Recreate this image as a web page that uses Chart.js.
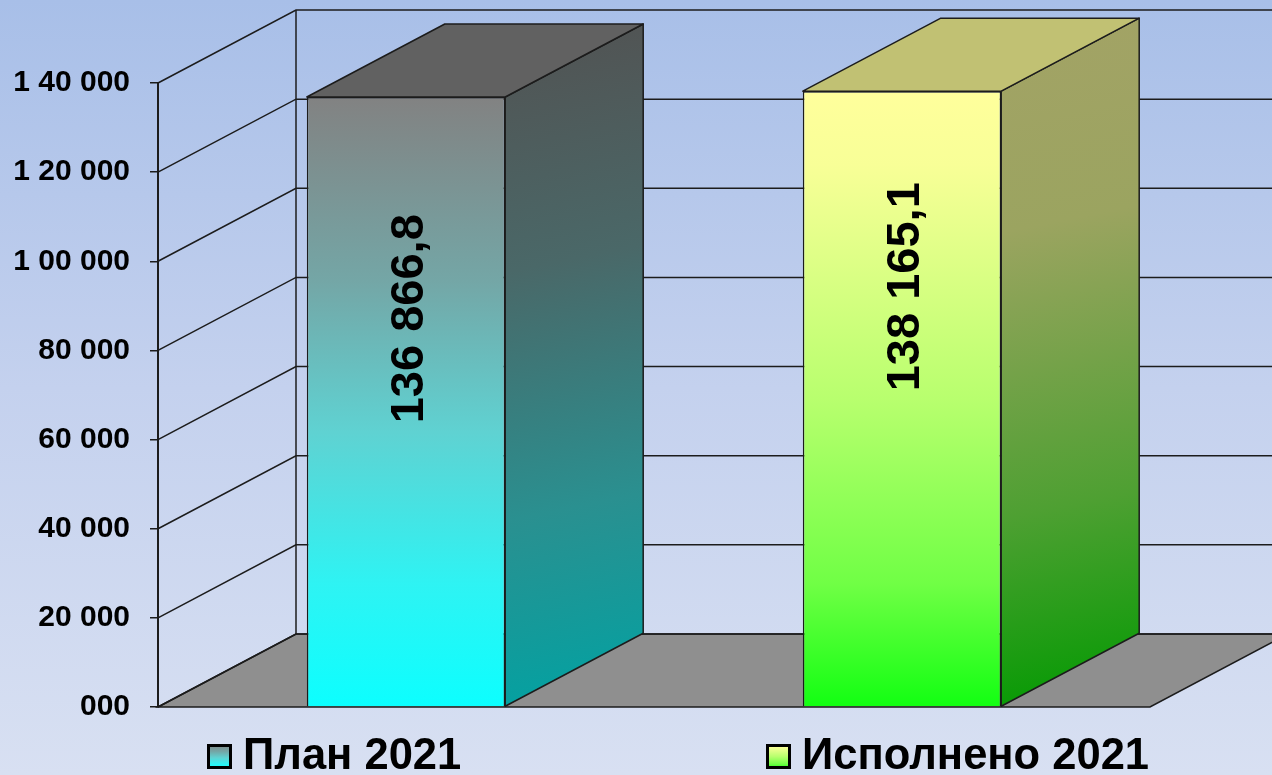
<!DOCTYPE html>
<html>
<head>
<meta charset="utf-8">
<script src="https://cdn.jsdelivr.net/npm/chart.js@4.4.1/dist/chart.umd.min.js"></script>
<style>
  html, body { margin: 0; padding: 0; }
  body { width: 1272px; height: 775px; overflow: hidden;
         background: linear-gradient(to bottom, #A8BFE8 0%, #C4D1EE 50%, #D8E0F2 100%); }
  canvas { display: block; }
</style>
</head>
<body>
<canvas id="chart" width="1272" height="775"></canvas>
<script>
// ---- data ----
const categories = ['План 2021', 'Исполнено 2021'];
const values = [136866.8, 138165.1];
const valueLabels = ['136 866,8', '138 165,1'];
const tickValues = [0, 20000, 40000, 60000, 80000, 100000, 120000, 140000];
const tickLabels = ['000', '20 000', '40 000', '60 000', '80 000', '1 00 000', '1 20 000', '1 40 000'];

// ---- styles ----
const FONT = '"Liberation Sans", Arial, sans-serif';
const frontStops = [
  [[0, '#828282'], [0.3, '#74A6A6'], [0.55, '#5FD2D2'], [0.8, '#2EF3F3'], [1, '#0CFFFF']],
  [[0, '#FFFF9C'], [0.12, '#F8FF97'], [0.5, '#B8FF6E'], [0.8, '#70FF45'], [1, '#12FF12']]
];
const sideStops = [
  [[0, '#525252'], [0.35, '#4A6868'], [0.7, '#2A9090'], [1, '#00A3A3']],
  [[0, '#A3A366'], [0.3, '#9BA460'], [0.7, '#4EA032'], [1, '#009A00']]
];
const topColors = ['#616161', '#C1C173'];
const LINE = '#1c1c1c';

function applyStops(g, stops) { stops.forEach(s => g.addColorStop(s[0], s[1])); return g; }

function frontGradient(ctx) {
  const chart = ctx.chart;
  if (!chart.chartArea) return '#888';
  const ys = chart.scales.y;
  const top = ys.getPixelForValue(values[ctx.dataIndex]);
  const bot = ys.getPixelForValue(0);
  return applyStops(chart.ctx.createLinearGradient(0, top, 0, bot), frontStops[ctx.dataIndex]);
}

const threeD = {
  id: 'threeD',
  beforeDatasetsDraw(chart, args, opts) {
    const ctx = chart.ctx;
    const ys = chart.scales.y;
    const { left, right } = chart.chartArea;
    const dx = opts.dx, dy = opts.dy;
    const bottom = ys.getPixelForValue(0);
    const top = ys.getPixelForValue(tickValues[tickValues.length - 1]);
    ctx.save();
    // floor
    ctx.beginPath();
    ctx.moveTo(left, bottom);
    ctx.lineTo(right, bottom);
    ctx.lineTo(right + dx, bottom - dy);
    ctx.lineTo(left + dx, bottom - dy);
    ctx.closePath();
    ctx.fillStyle = '#8F8F8F';
    ctx.fill();
    ctx.lineWidth = 1.6;
    ctx.strokeStyle = LINE;
    ctx.stroke();
    // grid lines: left wall slants + back wall horizontals
    ctx.lineWidth = 1.5;
    tickValues.forEach(v => {
      const y = ys.getPixelForValue(v);
      ctx.beginPath();
      ctx.moveTo(left, y);
      ctx.lineTo(left + dx, y - dy);
      ctx.lineTo(chart.width + 5, y - dy);
      ctx.stroke();
    });
    // back wall vertical edge
    ctx.beginPath();
    ctx.moveTo(left + dx, top - dy);
    ctx.lineTo(left + dx, bottom - dy);
    ctx.stroke();
    ctx.restore();
  },
  afterDatasetsDraw(chart, args, opts) {
    const ctx = chart.ctx;
    const dx = opts.dx, dy = opts.dy;
    const meta = chart.getDatasetMeta(0);
    ctx.save();
    ctx.lineWidth = 1.5;
    ctx.strokeStyle = LINE;
    ctx.lineJoin = 'round';
    meta.data.forEach((bar, i) => {
      const L = bar.x - bar.width / 2, R = bar.x + bar.width / 2;
      const yT = bar.y, yB = bar.base;
      // side face
      const gs = applyStops(ctx.createLinearGradient(R, yT - dy, R + dx, yB), sideStops[i]);
      ctx.beginPath();
      ctx.moveTo(R, yT);
      ctx.lineTo(R + dx, yT - dy);
      ctx.lineTo(R + dx, yB - dy);
      ctx.lineTo(R, yB);
      ctx.closePath();
      ctx.fillStyle = gs;
      ctx.fill();
      ctx.stroke();
      // top face
      ctx.beginPath();
      ctx.moveTo(L, yT);
      ctx.lineTo(R, yT);
      ctx.lineTo(R + dx, yT - dy);
      ctx.lineTo(L + dx, yT - dy);
      ctx.closePath();
      ctx.fillStyle = topColors[i];
      ctx.fill();
      ctx.stroke();
      // value label (rotated)
      const fs = opts.labelSize;
      const cy = yT + (yB - yT) * opts.labelPos[i];
      ctx.save();
      ctx.translate(bar.x + fs * 0.36, cy);
      ctx.rotate(-Math.PI / 2);
      ctx.font = 'bold ' + fs + 'px ' + FONT;
      ctx.fillStyle = '#000';
      ctx.textAlign = 'center';
      ctx.textBaseline = 'alphabetic';
      ctx.fillText(valueLabels[i], 0, 0);
      ctx.restore();
    });
    ctx.restore();
  },
  afterDraw(chart, args, opts) {
    const ctx = chart.ctx;
    ctx.save();
    const sz = opts.legendBox;
    categories.forEach((name, i) => {
      const x = opts.legendX[i];
      const yb = opts.legendBaseline;
      const boxTop = yb - sz;
      const g = applyStops(ctx.createLinearGradient(0, boxTop, 0, boxTop + sz), frontStops[i]);
      ctx.fillStyle = '#000';
      ctx.fillRect(x, boxTop, sz, sz);
      ctx.fillStyle = g;
      ctx.fillRect(x + 3, boxTop + 3, sz - 6, sz - 6);
      ctx.font = 'bold ' + opts.legendSize + 'px ' + FONT;
      ctx.fillStyle = '#000';
      ctx.textAlign = 'left';
      ctx.textBaseline = 'alphabetic';
      ctx.fillText(name, x + sz + 11, yb);
    });
    ctx.restore();
  }
};

new Chart(document.getElementById('chart'), {
  type: 'bar',
  data: {
    labels: categories,
    datasets: [{
      label: 'Значения',
      data: values,
      backgroundColor: frontGradient,
      borderColor: LINE,
      borderWidth: 1.5,
      categoryPercentage: 1.0,
      barPercentage: 0.4
    }]
  },
  plugins: [threeD],
  options: {
    responsive: false,
    animation: false,
    devicePixelRatio: 1,
    layout: { padding: { top: 83, bottom: 68, left: 0, right: 122 } },
    plugins: {
      legend: { display: false },
      tooltip: { enabled: false },
      threeD: {
        dx: 138, dy: 73,
        labelSize: 47,
        labelPos: [0.364, 0.318],
        legendX: [207, 766],
        legendBaseline: 769,
        legendBox: 25,
        legendSize: 43.5
      }
    },
    scales: {
      x: { display: false, offset: true },
      y: {
        min: 0, max: 140000,
        afterFit(scale) { scale.width = 158; },
        afterBuildTicks(scale) { scale.ticks = tickValues.map(v => ({ value: v })); },
        ticks: {
          callback: (v) => tickLabels[tickValues.indexOf(v)],
          font: { family: FONT, size: 30, weight: 'bold' },
          color: '#000',
          padding: 20
        },
        grid: { drawOnChartArea: false, drawTicks: true, tickLength: 8, color: LINE, lineWidth: 1.5 },
        border: { display: true, color: LINE, width: 2 }
      }
    }
  }
});
</script>
</body>
</html>
